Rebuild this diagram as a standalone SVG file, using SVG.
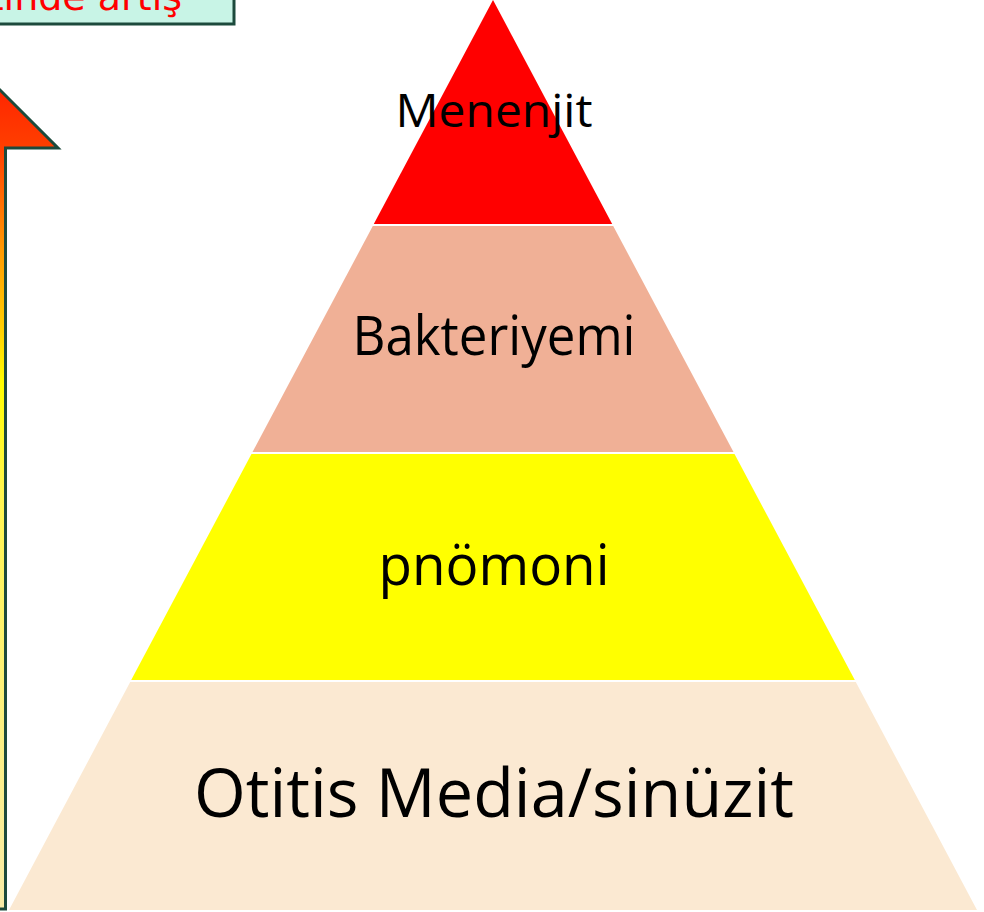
<svg xmlns="http://www.w3.org/2000/svg" width="984" height="912" viewBox="0 0 984 912">
  <style>
    .lbl { font-family: "Open Sans", "Noto Sans", sans-serif; fill: #000; text-anchor: middle; }
    .outline { stroke: #1C4A3C; stroke-width: 3; stroke-linejoin: miter; }
  </style>
  <defs>
    <linearGradient id="arrowGrad" gradientUnits="userSpaceOnUse" x1="0" y1="80" x2="0" y2="910">
      <stop offset="0" stop-color="#FF2200"/>
      <stop offset="0.085" stop-color="#FF4000"/>
      <stop offset="0.205" stop-color="#FF9A00"/>
      <stop offset="0.30" stop-color="#FFD000"/>
      <stop offset="0.365" stop-color="#FFFF00"/>
      <stop offset="0.5" stop-color="#FFF650"/>
      <stop offset="1" stop-color="#F8EBA8"/>
    </linearGradient>
  </defs>
  <rect width="984" height="912" fill="#FFFFFF"/>

  <g id="top-box">
    <rect x="-5" y="-5" width="239" height="29" fill="#C8F4E6" class="outline"/>
    <text x="182" y="10" font-family="'DejaVu Sans', sans-serif" font-size="38" fill="#FF0000" text-anchor="end">şiddetinde artış</text>
  </g>

  <g id="arrow">
    <path d="M -30,909 L -30,148 L -82,148 L -12,78 L 58,148 L 5.5,148 L 5.5,909 Z" fill="url(#arrowGrad)" class="outline"/>
  </g>

  <g id="level-menenjit">
    <polygon points="493,0 612.2,224 373.8,224" fill="#FF0000"/>
    <text class="lbl" x="494" y="127" font-size="45" textLength="197" lengthAdjust="spacingAndGlyphs">Menenjit</text>
  </g>

  <g id="level-bakteriyemi">
    <polygon points="372.8,226 613.2,226 733.5,452 252.5,452" fill="#F0B096"/>
    <text class="lbl" x="494" y="355" font-size="54" textLength="283" lengthAdjust="spacingAndGlyphs">Bakteriyemi</text>
  </g>

  <g id="level-pnomoni">
    <polygon points="251.5,454 734.5,454 854.8,680 131.2,680" fill="#FFFF00"/>
    <text class="lbl" x="494" y="585" font-size="56" textLength="231" lengthAdjust="spacingAndGlyphs">pnömoni</text>
  </g>

  <g id="level-otitis">
    <polygon points="130.2,682 855.8,682 977,910 9,910" fill="#FBE9D2"/>
    <text class="lbl" x="494" y="817" font-size="67" textLength="600" lengthAdjust="spacingAndGlyphs">Otitis Media/sinüzit</text>
  </g>

  <g id="connectors"/>
</svg>
